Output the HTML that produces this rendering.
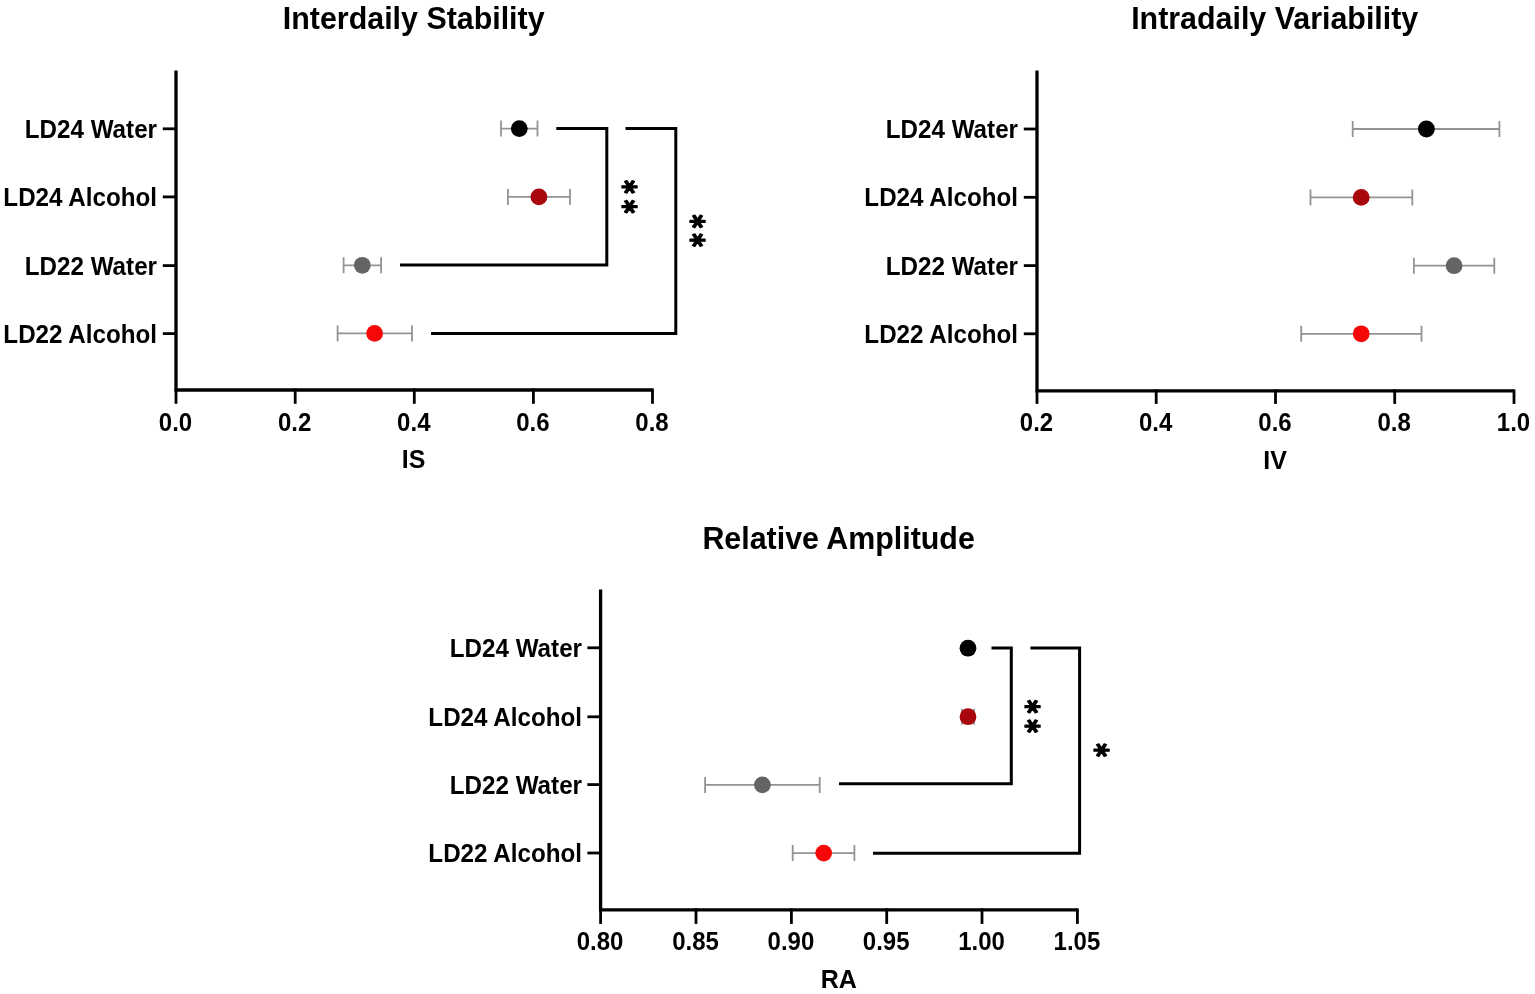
<!DOCTYPE html>
<html lang="en">
<head>
<meta charset="utf-8">
<title>Circadian rhythm metrics</title>
<style>
html,body{margin:0;padding:0;background:#ffffff;}
body{width:1535px;height:994px;overflow:hidden;}
svg{display:block;}
text{font-family:"Liberation Sans", sans-serif;font-weight:bold;fill:#000000;}
.title{font-size:30.4px;}
.ylab{font-size:24.2px;}
.tick{font-size:24px;}
.xlab{font-size:25px;}
.ast{font-family:"DejaVu Sans", "Liberation Sans", sans-serif;font-weight:bold;font-size:26.1px;fill:#000;stroke:#000;stroke-width:1.2px;stroke-linejoin:round;}
.ax{stroke:#000;stroke-width:3.3;fill:none;stroke-linecap:butt;stroke-linejoin:miter;}
.tk{stroke:#000;stroke-width:2.8;fill:none;}
.br{stroke:#000;stroke-width:3.0;fill:none;stroke-linecap:butt;stroke-linejoin:miter;}
.eb{stroke:#939393;stroke-width:1.8;fill:none;}
</style>
</head>
<body>
<svg width="1535" height="994" viewBox="0 0 1535 994">
<rect x="0" y="0" width="1535" height="994" fill="#ffffff"/>
<g>
<text class="title" transform="translate(413.7 29.3) scale(1 1.04)" text-anchor="middle">Interdaily Stability</text>
<path class="ax" d="M176 70.5 V390 H652.5"/>
<line class="tk" x1="162.8" y1="128.8" x2="176" y2="128.8"/>
<text class="ylab" transform="translate(157 137.7) scale(1 1.04)" text-anchor="end">LD24 Water</text>
<line class="tk" x1="162.8" y1="196.9" x2="176" y2="196.9"/>
<text class="ylab" transform="translate(157 205.8) scale(1 1.04)" text-anchor="end">LD24 Alcohol</text>
<line class="tk" x1="162.8" y1="265.6" x2="176" y2="265.6"/>
<text class="ylab" transform="translate(157 274.5) scale(1 1.04)" text-anchor="end">LD22 Water</text>
<line class="tk" x1="162.8" y1="333.6" x2="176" y2="333.6"/>
<text class="ylab" transform="translate(157 342.5) scale(1 1.04)" text-anchor="end">LD22 Alcohol</text>
<line class="tk" x1="176" y1="388.5" x2="176" y2="403.8"/>
<text class="tick" transform="translate(175.5 430.5) scale(1 1.08)" text-anchor="middle">0.0</text>
<line class="tk" x1="295.2" y1="388.5" x2="295.2" y2="403.8"/>
<text class="tick" transform="translate(294.7 430.5) scale(1 1.08)" text-anchor="middle">0.2</text>
<line class="tk" x1="414.3" y1="388.5" x2="414.3" y2="403.8"/>
<text class="tick" transform="translate(413.8 430.5) scale(1 1.08)" text-anchor="middle">0.4</text>
<line class="tk" x1="533.4" y1="388.5" x2="533.4" y2="403.8"/>
<text class="tick" transform="translate(532.9 430.5) scale(1 1.08)" text-anchor="middle">0.6</text>
<line class="tk" x1="652.5" y1="388.5" x2="652.5" y2="403.8"/>
<text class="tick" transform="translate(652 430.5) scale(1 1.08)" text-anchor="middle">0.8</text>
<text class="xlab" transform="translate(413.5 468.2) scale(1 1.03)" text-anchor="middle">IS</text>
<path class="eb" d="M501 128.6 H537.5 M501 120.6 V136.6 M537.5 120.6 V136.6"/>
<circle cx="519.3" cy="128.6" r="8.4" fill="#000000"/>
<path class="eb" d="M507.9 196.9 H570 M507.9 188.9 V204.9 M570 188.9 V204.9"/>
<circle cx="538.9" cy="196.9" r="8.4" fill="#a8070c"/>
<path class="eb" d="M343.6 265.3 H381.1 M343.6 257.3 V273.3 M381.1 257.3 V273.3"/>
<circle cx="362.3" cy="265.3" r="8.4" fill="#646464"/>
<path class="eb" d="M337.6 333.4 H412 M337.6 325.4 V341.4 M412 325.4 V341.4"/>
<circle cx="374.6" cy="333.4" r="8.4" fill="#f70808"/>
<path class="br" d="M556.3 128.4 H606.8 V265 H400"/>
<path class="br" d="M625.5 128.4 H675.8 V333.4 H431"/>
<text class="ast" transform="translate(630.3 196.65) rotate(90) scale(1.0 1.255)" x="-16.78 3.12" y="13.31">**</text>
<text class="ast" transform="translate(698.75 230.6) rotate(90) scale(1.0 1.255)" x="-16.23 2.57" y="13.31">**</text>
</g>
<g>
<text class="title" transform="translate(1274.7 28.8) scale(1 1.04)" text-anchor="middle">Intradaily Variability</text>
<path class="ax" d="M1037 70.5 V390.9 H1514"/>
<line class="tk" x1="1023.8" y1="129" x2="1037" y2="129"/>
<text class="ylab" transform="translate(1018 137.9) scale(1 1.04)" text-anchor="end">LD24 Water</text>
<line class="tk" x1="1023.8" y1="197.3" x2="1037" y2="197.3"/>
<text class="ylab" transform="translate(1018 206.2) scale(1 1.04)" text-anchor="end">LD24 Alcohol</text>
<line class="tk" x1="1023.8" y1="265.6" x2="1037" y2="265.6"/>
<text class="ylab" transform="translate(1018 274.5) scale(1 1.04)" text-anchor="end">LD22 Water</text>
<line class="tk" x1="1023.8" y1="333.8" x2="1037" y2="333.8"/>
<text class="ylab" transform="translate(1018 342.7) scale(1 1.04)" text-anchor="end">LD22 Alcohol</text>
<line class="tk" x1="1037" y1="389.4" x2="1037" y2="403.9"/>
<text class="tick" transform="translate(1036.5 430.7) scale(1 1.08)" text-anchor="middle">0.2</text>
<line class="tk" x1="1156.2" y1="389.4" x2="1156.2" y2="403.9"/>
<text class="tick" transform="translate(1155.7 430.7) scale(1 1.08)" text-anchor="middle">0.4</text>
<line class="tk" x1="1275.5" y1="389.4" x2="1275.5" y2="403.9"/>
<text class="tick" transform="translate(1275 430.7) scale(1 1.08)" text-anchor="middle">0.6</text>
<line class="tk" x1="1394.7" y1="389.4" x2="1394.7" y2="403.9"/>
<text class="tick" transform="translate(1394.2 430.7) scale(1 1.08)" text-anchor="middle">0.8</text>
<line class="tk" x1="1514" y1="389.4" x2="1514" y2="403.9"/>
<text class="tick" transform="translate(1513.5 430.7) scale(1 1.08)" text-anchor="middle">1.0</text>
<text class="xlab" transform="translate(1275 468.7) scale(1 1.03)" text-anchor="middle">IV</text>
<path class="eb" d="M1352.7 129 H1499.4 M1352.7 121 V137 M1499.4 121 V137"/>
<circle cx="1426.4" cy="129" r="8.4" fill="#000000"/>
<path class="eb" d="M1310.5 197.4 H1412.3 M1310.5 189.4 V205.4 M1412.3 189.4 V205.4"/>
<circle cx="1361.2" cy="197.4" r="8.4" fill="#a8070c"/>
<path class="eb" d="M1413.9 265.7 H1494.3 M1413.9 257.7 V273.7 M1494.3 257.7 V273.7"/>
<circle cx="1454.1" cy="265.7" r="8.4" fill="#646464"/>
<path class="eb" d="M1301.2 333.8 H1421.5 M1301.2 325.8 V341.8 M1421.5 325.8 V341.8"/>
<circle cx="1361.2" cy="333.8" r="8.4" fill="#f70808"/>
</g>
<g>
<text class="title" transform="translate(838.6 548.5) scale(1 1.04)" text-anchor="middle">Relative Amplitude</text>
<path class="ax" d="M600.6 589.5 V909.9 H1077.4"/>
<line class="tk" x1="587.4" y1="647.8" x2="600.6" y2="647.8"/>
<text class="ylab" transform="translate(582 656.7) scale(1 1.04)" text-anchor="end">LD24 Water</text>
<line class="tk" x1="587.4" y1="716.8" x2="600.6" y2="716.8"/>
<text class="ylab" transform="translate(582 725.7) scale(1 1.04)" text-anchor="end">LD24 Alcohol</text>
<line class="tk" x1="587.4" y1="784.6" x2="600.6" y2="784.6"/>
<text class="ylab" transform="translate(582 793.5) scale(1 1.04)" text-anchor="end">LD22 Water</text>
<line class="tk" x1="587.4" y1="853" x2="600.6" y2="853"/>
<text class="ylab" transform="translate(582 861.9) scale(1 1.04)" text-anchor="end">LD22 Alcohol</text>
<line class="tk" x1="600.6" y1="908.4" x2="600.6" y2="923.9"/>
<text class="tick" transform="translate(600.1 950.2) scale(1 1.08)" text-anchor="middle">0.80</text>
<line class="tk" x1="696" y1="908.4" x2="696" y2="923.9"/>
<text class="tick" transform="translate(695.5 950.2) scale(1 1.08)" text-anchor="middle">0.85</text>
<line class="tk" x1="791.4" y1="908.4" x2="791.4" y2="923.9"/>
<text class="tick" transform="translate(790.9 950.2) scale(1 1.08)" text-anchor="middle">0.90</text>
<line class="tk" x1="886.7" y1="908.4" x2="886.7" y2="923.9"/>
<text class="tick" transform="translate(886.2 950.2) scale(1 1.08)" text-anchor="middle">0.95</text>
<line class="tk" x1="982" y1="908.4" x2="982" y2="923.9"/>
<text class="tick" transform="translate(981.5 950.2) scale(1 1.08)" text-anchor="middle">1.00</text>
<line class="tk" x1="1077.4" y1="908.4" x2="1077.4" y2="923.9"/>
<text class="tick" transform="translate(1076.9 950.2) scale(1 1.08)" text-anchor="middle">1.05</text>
<text class="xlab" transform="translate(838.8 988.3) scale(1 1.03)" text-anchor="middle">RA</text>
<path class="eb" d="M968 648.2 H968 M968 640.2 V656.2 M968 640.2 V656.2"/>
<circle cx="968" cy="648.2" r="8.4" fill="#000000"/>
<path class="eb" d="M962 716.7 H974 M962 708.7 V724.7 M974 708.7 V724.7"/>
<circle cx="968" cy="716.7" r="8.4" fill="#a8070c"/>
<path class="eb" d="M705.1 784.9 H819.7 M705.1 776.9 V792.9 M819.7 776.9 V792.9"/>
<circle cx="762.4" cy="784.9" r="8.4" fill="#646464"/>
<path class="eb" d="M792.7 853.1 H854.4 M792.7 845.1 V861.1 M854.4 845.1 V861.1"/>
<circle cx="823.7" cy="853.1" r="8.4" fill="#f70808"/>
<path class="br" d="M991.5 648 H1011.3 V783.8 H839"/>
<path class="br" d="M1030.4 648 H1079.6 V853.2 H873"/>
<text class="ast" transform="translate(1033.6 716.45) rotate(90) scale(1.0 1.255)" x="-16.58 2.92" y="13.31">**</text>
<text class="ast" transform="translate(1102.4 750) rotate(90) scale(1.0 1.255)" x="-6.83" y="13.31">*</text>
</g>
</svg>
</body>
</html>
